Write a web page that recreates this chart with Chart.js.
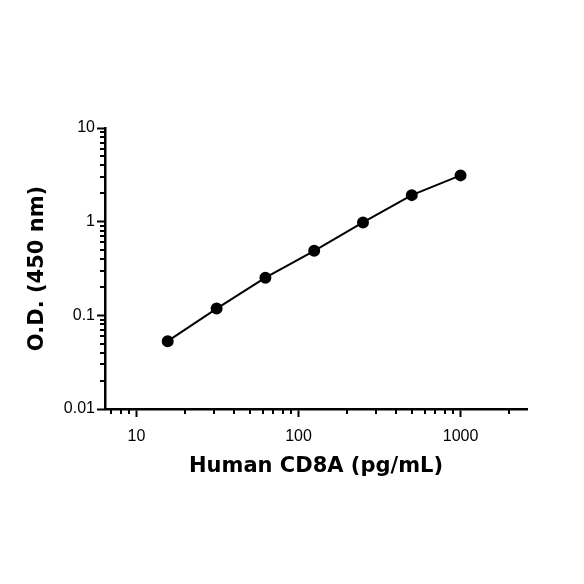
<!DOCTYPE html>
<html>
<head>
<meta charset="utf-8">
<script src="https://cdn.jsdelivr.net/npm/chart.js@4.4.1/dist/chart.umd.min.js"></script>
<style>
  html, body { margin: 0; padding: 0; background: #fff; }
  canvas { display: block; }
</style>
</head>
<body>
<canvas id="chart" width="584" height="584"></canvas>
<script>
// Dados da curva padrão (concentração x densidade óptica)
const concentrations = [15.6, 31.25, 62.5, 125, 250, 500, 1000];
const odValues = [0.053, 0.118, 0.252, 0.488, 0.98, 1.92, 3.12];

// Ticks dos eixos
const xMajorTicks = [10, 100, 1000];
const xTickLabels = ['10', '100', '1000'];
const xMinorTicks = [7, 8, 9, 20, 30, 40, 50, 60, 70, 80, 90, 200, 300, 400, 500, 600, 700, 800, 900, 2000];
const yMajorTicks = [0.01, 0.1, 1, 10];
const yTickLabels = ['0.01', '0.1', '1', '10'];
const yMinorTicks = [0.02, 0.03, 0.04, 0.05, 0.06, 0.07, 0.08, 0.09,
                     0.2, 0.3, 0.4, 0.5, 0.6, 0.7, 0.8, 0.9,
                     2, 3, 4, 5, 6, 7, 8, 9];

const titleFont = { family: '"DejaVu Sans", sans-serif', size: 21, weight: 'bold' };
const tickFont = { family: '"Liberation Sans", Arial, sans-serif', size: 16 };

// Desenha os ticks menores (mais curtos que os principais)
const minorTicksPlugin = {
    id: 'minorTicks',
    afterDraw(chart) {
        const ctx = chart.ctx;
        const x = chart.scales.x;
        const y = chart.scales.y;
        const area = chart.chartArea;
        ctx.save();
        ctx.strokeStyle = '#000';
        ctx.lineWidth = 2;
        ctx.beginPath();
        xMinorTicks.forEach(v => {
            const px = Math.round(x.getPixelForValue(v));
            ctx.moveTo(px, area.bottom);
            ctx.lineTo(px, area.bottom + 5);
        });
        yMinorTicks.forEach(v => {
            const py = Math.round(y.getPixelForValue(v));
            ctx.moveTo(area.left, py);
            ctx.lineTo(area.left - 5, py);
        });
        ctx.stroke();
        ctx.restore();
    }
};

const ctx = document.getElementById('chart').getContext('2d');

new Chart(ctx, {
    type: 'scatter',
    data: {
        datasets: [{
            data: concentrations.map((c, i) => ({ x: c, y: odValues[i] })),
            showLine: true,
            borderColor: '#000',
            backgroundColor: '#000',
            borderWidth: 2,
            pointRadius: 5,
            pointBackgroundColor: '#000',
            pointBorderColor: '#000',
            tension: 0
        }]
    },
    options: {
        responsive: false,
        animation: false,
        devicePixelRatio: 1,
        layout: { padding: { top: 128, right: 57, left: 0, bottom: 0 } },
        plugins: {
            legend: { display: false },
            tooltip: { enabled: false }
        },
        scales: {
            x: {
                type: 'logarithmic',
                min: 6.4,
                max: 2570,
                afterBuildTicks: scale => {
                    scale.ticks = xMajorTicks.map(v => ({ value: v, major: true }));
                },
                afterFit: scale => { scale.height = 175; },
                ticks: {
                    color: '#000',
                    font: tickFont,
                    padding: 10,
                    maxRotation: 0,
                    autoSkip: false,
                    callback: (value, index) => xTickLabels[index]
                },
                grid: { drawOnChartArea: false, drawTicks: true, tickLength: 8, tickWidth: 2, tickColor: '#000' },
                border: { color: '#000', width: 2.5 },
                title: {
                    display: true,
                    text: 'Human CD8A (pg/mL)',
                    color: '#000',
                    font: titleFont,
                    padding: { top: 0, bottom: 105 }
                }
            },
            y: {
                type: 'logarithmic',
                min: 0.01,
                max: 10,
                afterBuildTicks: scale => {
                    scale.ticks = yMajorTicks.map(v => ({ value: v, major: true }));
                },
                afterFit: scale => { scale.width = 105; },
                ticks: {
                    color: '#000',
                    font: tickFont,
                    padding: 2,
                    autoSkip: false,
                    callback: (value, index) => yTickLabels[index]
                },
                grid: { drawOnChartArea: false, drawTicks: true, tickLength: 8, tickWidth: 2, tickColor: '#000' },
                border: { color: '#000', width: 2.5 },
                title: {
                    display: true,
                    text: 'O.D. (450 nm)',
                    color: '#000',
                    font: titleFont,
                    padding: { top: 25, bottom: 0 }
                }
            }
        }
    },
    plugins: [minorTicksPlugin]
});
</script>
</body>
</html>
